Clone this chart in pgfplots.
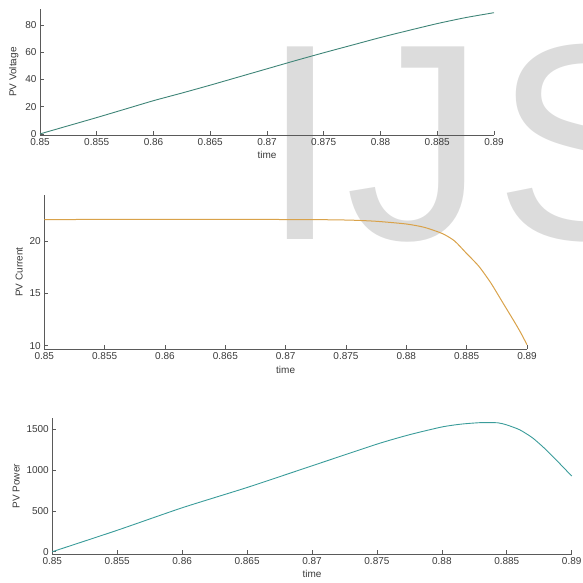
\documentclass[border=0pt]{standalone}
\usepackage{pgfplots}
\pgfplotsset{compat=1.18}
\usepackage{fontspec}
\setmainfont{Liberation Sans}
\definecolor{vcol}{HTML}{3F8578}
\definecolor{icol}{HTML}{D9A24A}
\definecolor{pcol}{HTML}{3A9C9A}
\definecolor{axcol}{HTML}{5A5A5A}
\definecolor{txtcol}{HTML}{3A3A3A}
\definecolor{wm}{HTML}{DCDCDC}
\pgfplotsset{
  mystyle/.style={
    scale only axis,
    anchor=south west,
    axis lines*=left,
    axis line style={axcol, line width=0.9pt, -},
    tick align=inside,
    major tick length=4pt,
    tick style={axcol, line width=0.6pt},
    xmin=0.85, xmax=0.89,
    xtick={0.85,0.855,0.86,0.865,0.87,0.875,0.88,0.885,0.89},
    font=\fontsize{10}{12}\selectfont,
    every tick label/.append style={text=txtcol},
    label style={text=txtcol},
    /pgf/number format/assume math mode=true,
    /pgf/number format/1000 sep={},
    xticklabel style={/pgf/number format/fixed,/pgf/number format/precision=3},
    xlabel={time},
    xlabel style={yshift=1pt},
    clip=false,
  }
}
\begin{document}
\begin{tikzpicture}
\useasboundingbox (0pt,0pt) rectangle (582pt,583pt);
\clip (0pt,0pt) rectangle (582pt,583pt);
% watermark
\node[anchor=base west, inner sep=0, text=wm, font=\fontsize{280}{280}\selectfont] at (261.7pt,343pt) {I};
\node[anchor=base west, inner sep=0, text=wm, font=\fontsize{280}{280}\selectfont] at (345pt,343pt) {J};
\node[anchor=base west, inner sep=0, text=wm, font=\fontsize{280}{280}\selectfont] at (494pt,343pt) {S};

% PV Voltage
\begin{axis}[mystyle, at={(40pt,448pt)}, width=454pt, height=125.7pt,
  ymin=-0.8, ymax=91.5, ytick={0,20,40,60,80}, ylabel={PV Voltage}]
\addplot[vcol, line width=0.9pt, smooth, tension=0.4] coordinates {
(0.850,0) (0.8525,6) (0.855,12) (0.8575,18.2) (0.860,24.4) (0.8625,30)
(0.865,35.8) (0.8675,41.8) (0.870,47.8) (0.8725,53.8) (0.875,59.6)
(0.8775,65.2) (0.880,70.8) (0.8825,76) (0.885,81) (0.8875,85.4) (0.890,89)};
\end{axis}

% PV Current
\begin{axis}[mystyle, at={(44.3pt,233.7pt)}, width=482.7pt, height=154.3pt,
  ymin=9.66, ymax=24.39, ytick={10,15,20}, ylabel={PV Current}]
\addplot[icol, line width=1pt, smooth, tension=0.4] coordinates {
(0.850,22.05) (0.870,22.05) (0.875,22.0) (0.8775,21.88) (0.880,21.62)
(0.8815,21.3) (0.883,20.7) (0.884,20.0) (0.885,18.8) (0.886,17.6)
(0.887,16.0) (0.888,14.1) (0.889,12.2) (0.8895,11.2) (0.890,10.1)};
\end{axis}

% PV Power
\begin{axis}[mystyle, at={(52.3pt,29pt)}, width=519.4pt, height=135.7pt,
  ymin=-28, ymax=1631, ytick={0,500,1000,1500}, ylabel={PV Power}]
\addplot[pcol, line width=0.9pt, smooth, tension=0.4] coordinates {
(0.850,0) (0.855,262) (0.860,537) (0.865,785) (0.870,1050) (0.875,1315)
(0.8775,1430) (0.880,1525) (0.8815,1560) (0.883,1578) (0.8843,1576)
(0.885,1550) (0.886,1490) (0.887,1390) (0.888,1250) (0.889,1090) (0.890,925)};
\end{axis}
\end{tikzpicture}
\end{document}
